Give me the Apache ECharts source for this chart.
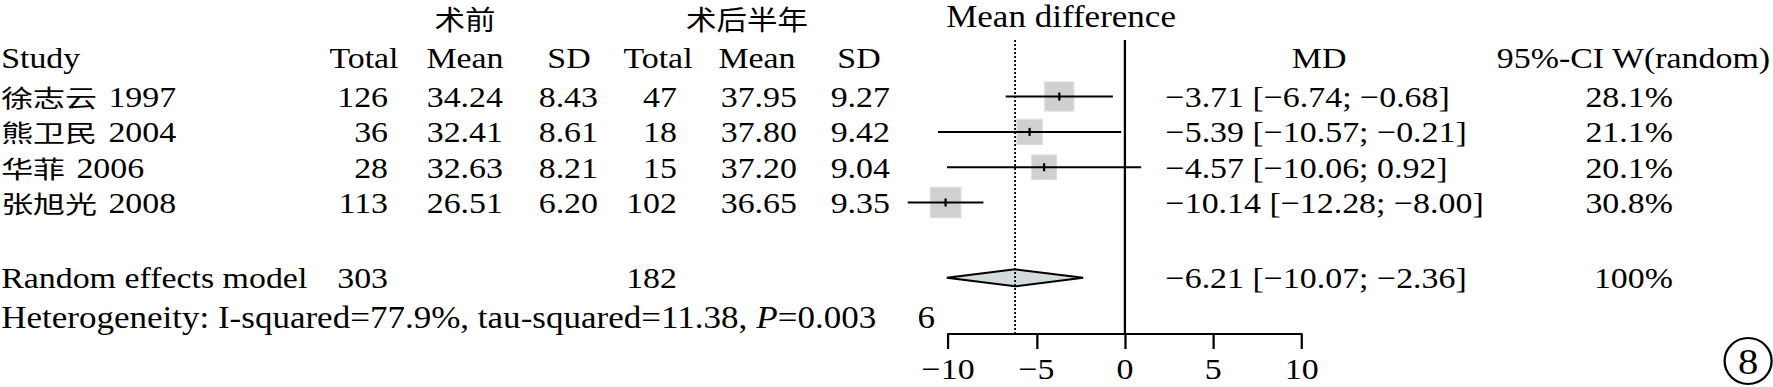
<!DOCTYPE html>
<html><head><meta charset="utf-8">
<script src="https://cdn.jsdelivr.net/npm/echarts@6/dist/echarts.min.js"></script>
<style>
html,body{margin:0;padding:0;background:#fff;overflow:hidden}
#wrap{width:1773px;height:387px;overflow:hidden;background:#fff}
#c{width:1569px;height:387px;transform:scaleX(1.13);transform-origin:0 0}
</style>
</head><body><div id="wrap"><div id="c"></div></div>
<script>
// ---- data ----
const studies = ['徐志云 1997', '熊卫民 2004', '华菲 2006', '张旭光 2008'];
const total1 = [126, 36, 28, 113];
const mean1 = [34.24, 32.41, 32.63, 26.51];
const sd1 = [8.43, 8.61, 8.21, 6.20];
const total2 = [47, 18, 15, 102];
const mean2 = [37.95, 37.80, 37.20, 36.65];
const sd2 = [9.27, 9.42, 9.04, 9.35];
const md = [-3.71, -5.39, -4.57, -10.14];
const ciLow = [-6.74, -10.57, -10.06, -12.28];
const ciHigh = [-0.68, -0.21, 0.92, -8.00];
const weights = [28.1, 21.1, 20.1, 30.8];
const pooledMD = [-6.21, -10.07, -2.36];
const pooledTotals = [303, 182];
const pooledWeight = ['100%'];
const heterogeneity = ['77.9%', '11.38', '0.003'];
const xTicks = [-10, -5, 0, 5, 10];
const studyRows = [1, 2, 3, 4];
const summaryRow = [6.13];

// ---- layout / style ----
const SX = 1.13;
const SERIF = "'Liberation Serif','Times New Roman',serif";
const CJK = "'Noto Sans CJK SC'";
const CJK_SIZE = 24, CJK_SCALE = 1.18;
const Y_MIN = -0.6, Y_MAX = 7.72;
const COL = {name: 1, t1: 343.4, m1: 445.1, s1: 529.2, t2: 599.1, m2: 705.3, s2: 787.6, ci: 1031.5, w: 1480.5};
const minus = s => String(s).replace(/-/g, '\u2212');
const f2 = v => minus(v.toFixed(2));

function T(x, y, text, align, extra) {
  return {type: 'text', style: Object.assign({x: x, y: y, text: text, fill: '#000', fontSize: 30, fontFamily: SERIF, align: align || 'left', verticalAlign: 'middle'}, extra || {})};
}
function nameTexts(x, y, s) {
  const parts = s.split(' ');
  return [
    {type: 'text', x: x, y: y, scaleX: CJK_SCALE, style: {x: 0, y: 0, text: parts[0], fill: '#000', fontSize: CJK_SIZE, fontFamily: CJK, align: 'left', verticalAlign: 'middle'}},
    T(x + parts[0].length * CJK_SIZE * CJK_SCALE + 10, y, parts[1], 'left')
  ];
}

const chart = echarts.init(document.getElementById('c'), null, {renderer: 'svg'});

const option = {
  backgroundColor: '#fff',
  animation: false,
  grid: {left: 839, right: 1569 - 1152, top: 40, bottom: 387 - 334, containLabel: false},
  xAxis: {
    type: 'value', min: xTicks[0], max: xTicks[xTicks.length - 1], interval: 5,
    axisLine: {show: true, onZero: false, lineStyle: {color: '#000', width: 2}},
    axisTick: {show: true, length: 15, lineStyle: {color: '#000', width: 2}},
    axisLabel: {color: '#000', fontSize: 30, fontFamily: SERIF, margin: 20, formatter: v => minus(v)},
    splitLine: {show: false}
  },
  yAxis: {type: 'value', min: Y_MIN, max: Y_MAX, inverse: true, show: false},
  series: [
    { // pooled diamond
      type: 'custom', silent: true, clip: false, z: 2,
      data: [[pooledMD[0], pooledMD[1], pooledMD[2], summaryRow[0]]],
      renderItem: function (params, api) {
        const r = api.value(3);
        const c = api.coord([api.value(0), r]);
        const l = api.coord([api.value(1), r]);
        const h = api.coord([api.value(2), r]);
        return {type: 'polygon', shape: {points: [[l[0], c[1]], [c[0], c[1] - 8.5], [h[0], c[1]], [c[0], c[1] + 8.5]]},
          style: {fill: '#d2dcdc', stroke: '#000', lineWidth: 2}};
      }
    },
    { // study squares + CI
      type: 'custom', silent: true, clip: false, z: 3,
      data: studies.map((s, i) => [md[i], ciLow[i], ciHigh[i], weights[i], studyRows[i]]),
      renderItem: function (params, api) {
        const r = api.value(4);
        const p = api.coord([api.value(0), r]);
        const l = api.coord([api.value(1), r]);
        const h = api.coord([api.value(2), r]);
        const side = 5.5 * Math.sqrt(api.value(3));
        return {type: 'group', children: [
          {type: 'rect', shape: {x: p[0] - side / SX / 2, y: p[1] - side / 2, width: side / SX, height: side},
            style: {fill: '#d0d0d0', stroke: '#d8dede', lineWidth: 1}},
          {type: 'line', shape: {x1: l[0], y1: l[1], x2: h[0], y2: h[1]}, style: {stroke: '#000', lineWidth: 2}},
          {type: 'line', shape: {x1: p[0], y1: p[1] - 4, x2: p[0], y2: p[1] + 4}, style: {stroke: '#000', lineWidth: 2}}
        ]};
      }
    },
    { // reference lines (no effect, pooled estimate)
      type: 'custom', silent: true, clip: false, z: 4,
      data: [[0, 0], [pooledMD[0], 1]],
      renderItem: function (params, api) {
        const x = api.value(0);
        const a = api.coord([x, Y_MIN]);
        const b = api.coord([x, Y_MAX]);
        const dotted = api.value(1) === 1;
        return {type: 'line', shape: {x1: a[0], y1: a[1], x2: b[0], y2: b[1]},
          style: {stroke: '#000', lineWidth: dotted ? 1.6 : 2, lineDash: dotted ? [2, 2] : null}};
      }
    },
    { // study table rows
      type: 'custom', silent: true, clip: false, z: 5,
      data: studies.map((s, i) => [0, studyRows[i], i]),
      renderItem: function (params, api) {
        const i = api.value(2);
        const y = api.coord([0, api.value(1)])[1];
        return {type: 'group', children: nameTexts(COL.name, y, studies[i]).concat([
          T(COL.t1, y, String(total1[i]), 'right'),
          T(COL.m1, y, mean1[i].toFixed(2), 'right'),
          T(COL.s1, y, sd1[i].toFixed(2), 'right'),
          T(COL.t2, y, String(total2[i]), 'right'),
          T(COL.m2, y, mean2[i].toFixed(2), 'right'),
          T(COL.s2, y, sd2[i].toFixed(2), 'right'),
          T(COL.ci, y, f2(md[i]) + ' [' + f2(ciLow[i]) + '; ' + f2(ciHigh[i]) + ']', 'left'),
          T(COL.w, y, weights[i].toFixed(1) + '%', 'right')
        ])};
      }
    },
    { // pooled row texts
      type: 'custom', silent: true, clip: false, z: 5,
      data: [[0, summaryRow[0]]],
      renderItem: function (params, api) {
        const y = api.coord([0, api.value(1)])[1];
        return {type: 'group', children: [
          T(COL.name, y, 'Random effects model', 'left'),
          T(COL.t1, y, String(pooledTotals[0]), 'right'),
          T(COL.t2, y, String(pooledTotals[1]), 'right'),
          T(COL.ci, y, f2(pooledMD[0]) + ' [' + f2(pooledMD[1]) + '; ' + f2(pooledMD[2]) + ']', 'left'),
          T(COL.w, y, pooledWeight[0], 'right')
        ]};
      }
    }
  ],
  graphic: [
    T(411.5, 18, '术前', 'center', {fontSize: 27, fontFamily: CJK}),
    T(661.1, 18, '术后半年', 'center', {fontSize: 27, fontFamily: CJK}),
    T(939, 17, 'Mean difference', 'center', {fontSize: 31}),
    T(COL.name, 58, 'Study', 'left'),
    T(322.1, 58, 'Total', 'center'),
    T(411.5, 58, 'Mean', 'center'),
    T(503.5, 58, 'SD', 'center'),
    T(582.3, 58, 'Total', 'center'),
    T(669.9, 58, 'Mean', 'center'),
    T(760.2, 58, 'SD', 'center'),
    T(1167.3, 58, 'MD', 'center'),
    T(1566.4, 58, '95%-CI W(random)', 'right'),
    T(COL.name, 318, 'Heterogeneity: I-squared=' + heterogeneity[0] + ', tau-squared=' + heterogeneity[1] + ', {i|P}=' + heterogeneity[2], 'left',
      {fontSize: 31, rich: {i: {fontStyle: 'italic', fontSize: 31, fontFamily: SERIF, fill: '#000'}}}),
    T(812, 318, '6', 'left', {fontSize: 31}),
    {type: 'ellipse', shape: {cx: 1547, cy: 361, rx: 20.8, ry: 23}, style: {fill: 'none', stroke: '#000', lineWidth: 2}},
    T(1547, 362, '8', 'center', {fontSize: 36})
  ]
};
chart.setOption(option);
</script>
</body></html>
